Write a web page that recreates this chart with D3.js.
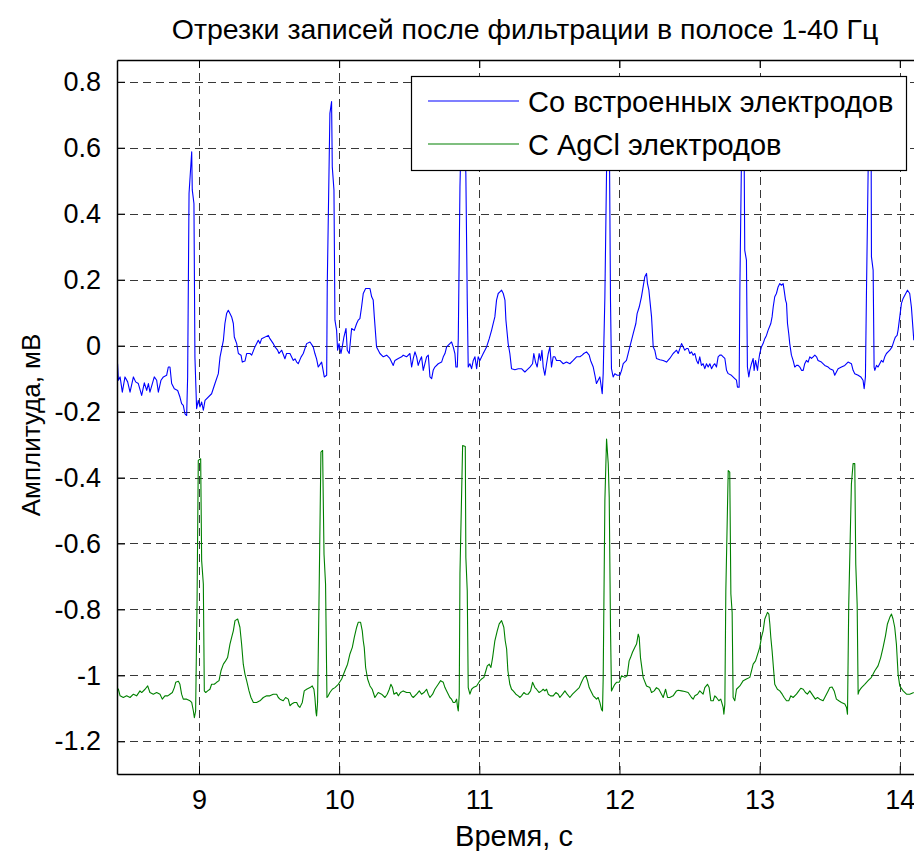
<!DOCTYPE html>
<html>
<head>
<meta charset="utf-8">
<script src="https://cdn.jsdelivr.net/npm/d3@7"></script>
<style>
  body { margin: 0; background: #fff; }
  text { font-family: "Liberation Sans", Arial, sans-serif; fill: #000; }
</style>
</head>
<body>
<div id="vis"></div>
<script>
// ---- data: [time s, amplitude mV] ----
var builtinSeries = [
 [8.415,-0.100],[8.419,-0.055],[8.425,-0.105],[8.437,-0.095],[8.453,-0.141],[8.472,-0.095],[8.491,-0.110],[8.508,-0.141],
 [8.532,-0.095],[8.548,-0.110],[8.567,-0.115],[8.591,-0.151],[8.610,-0.113],[8.627,-0.136],[8.639,-0.115],[8.650,-0.141],
 [8.681,-0.095],[8.698,-0.105],[8.710,-0.141],[8.729,-0.105],[8.746,-0.095],[8.769,-0.090],[8.781,-0.065],[8.793,-0.065],
 [8.805,-0.115],[8.824,-0.131],[8.848,-0.136],[8.864,-0.156],[8.876,-0.176],[8.888,-0.181],[8.900,-0.207],[8.912,-0.212],
 [8.919,-0.095],[8.929,0.461],[8.948,0.588],[8.952,0.472],[8.964,0.431],[8.971,-0.035],[8.983,-0.191],[8.995,-0.166],
 [9.007,-0.186],[9.019,-0.171],[9.031,-0.196],[9.043,-0.166],[9.090,-0.146],[9.114,-0.115],[9.138,-0.085],[9.150,-0.035],
 [9.174,0.016],[9.185,0.067],[9.197,0.097],[9.209,0.107],[9.221,0.097],[9.233,0.087],[9.245,0.067],[9.252,0.026],
 [9.269,0.006],[9.281,-0.024],[9.300,-0.029],[9.309,-0.050],[9.328,-0.047],[9.340,-0.024],[9.364,-0.024],[9.376,-0.029],
 [9.399,-0.004],[9.423,0.016],[9.435,0.006],[9.447,0.021],[9.495,0.031],[9.506,0.021],[9.530,0.006],[9.542,-0.004],
 [9.561,-0.014],[9.571,-0.024],[9.590,-0.014],[9.613,-0.040],[9.625,-0.024],[9.649,-0.024],[9.673,-0.045],[9.685,-0.040],
 [9.697,-0.050],[9.708,-0.055],[9.728,-0.035],[9.744,-0.024],[9.768,0.006],[9.792,0.011],[9.815,-0.004],[9.827,-0.024],
 [9.839,-0.040],[9.851,-0.065],[9.875,-0.050],[9.894,-0.095],[9.911,-0.090],[9.915,0.178],[9.934,0.704],[9.946,0.740],
 [9.951,0.542],[9.963,0.472],[9.970,0.077],[9.982,0.046],[9.989,-0.014],[9.999,0.006],[10.013,-0.024],[10.022,-0.004],
 [10.034,0.026],[10.049,0.052],[10.058,-0.014],[10.072,-0.024],[10.089,0.052],[10.108,0.046],[10.125,0.067],[10.136,0.077],
 [10.148,0.082],[10.160,0.117],[10.172,0.158],[10.189,0.173],[10.220,0.173],[10.232,0.148],[10.243,0.138],[10.251,0.087],
 [10.267,-0.004],[10.291,-0.024],[10.315,-0.034],[10.339,-0.029],[10.362,-0.039],[10.386,-0.060],[10.398,-0.045],[10.422,-0.039],
 [10.446,-0.034],[10.457,-0.029],[10.481,-0.034],[10.505,-0.024],[10.517,-0.065],[10.529,-0.039],[10.541,-0.019],[10.553,-0.034],
 [10.564,-0.060],[10.576,-0.045],[10.588,-0.034],[10.600,-0.075],[10.612,-0.055],[10.624,-0.034],[10.636,-0.029],[10.648,-0.095],
 [10.660,-0.100],[10.671,-0.075],[10.683,-0.065],[10.707,-0.055],[10.731,-0.050],[10.743,-0.034],[10.755,-0.024],[10.767,-0.004],
 [10.790,0.006],[10.802,0.011],[10.814,-0.004],[10.826,-0.024],[10.833,-0.065],[10.843,-0.065],[10.850,0.021],[10.862,0.482],
 [10.875,0.720],[10.890,0.700],[10.904,0.522],[10.914,0.138],[10.921,-0.065],[10.933,-0.055],[10.945,-0.070],[10.957,-0.045],
 [10.969,-0.034],[10.981,-0.070],[10.992,-0.034],[11.004,-0.045],[11.028,-0.024],[11.052,-0.004],[11.071,0.021],[11.088,0.047],
 [11.099,0.067],[11.111,0.087],[11.123,0.138],[11.135,0.158],[11.147,0.163],[11.159,0.168],[11.171,0.158],[11.183,0.138],
 [11.190,0.077],[11.206,0.006],[11.218,-0.024],[11.230,-0.070],[11.254,-0.073],[11.278,-0.070],[11.301,-0.070],[11.325,-0.080],
 [11.337,-0.075],[11.361,-0.065],[11.380,-0.055],[11.389,-0.024],[11.401,-0.050],[11.413,-0.065],[11.427,-0.024],[11.437,-0.045],
 [11.447,-0.014],[11.456,-0.065],[11.468,-0.090],[11.480,-0.055],[11.492,-0.024],[11.504,-0.004],[11.515,-0.065],[11.527,-0.034],
 [11.539,-0.034],[11.551,-0.045],[11.575,-0.045],[11.599,-0.055],[11.622,-0.050],[11.646,-0.055],[11.670,-0.045],[11.694,-0.034],
 [11.718,-0.034],[11.734,-0.029],[11.746,-0.024],[11.765,-0.019],[11.784,-0.029],[11.794,-0.045],[11.813,-0.065],[11.825,-0.090],
 [11.836,-0.115],[11.848,-0.105],[11.860,-0.095],[11.867,-0.115],[11.877,-0.146],[11.884,-0.085],[11.896,0.148],[11.908,0.532],
 [11.918,0.720],[11.927,0.700],[11.936,0.138],[11.943,-0.070],[11.955,-0.095],[11.967,-0.085],[11.984,-0.090],[12.003,-0.090],
 [12.015,-0.075],[12.027,-0.055],[12.050,-0.045],[12.062,-0.024],[12.074,-0.004],[12.098,0.036],[12.117,0.067],[12.126,0.097],
 [12.141,0.117],[12.157,0.148],[12.181,0.209],[12.193,0.219],[12.200,0.188],[12.210,0.168],[12.217,0.138],[12.229,0.087],
 [12.241,-0.004],[12.252,-0.014],[12.264,-0.039],[12.288,-0.043],[12.312,-0.045],[12.336,-0.050],[12.359,-0.039],[12.383,-0.024],
 [12.395,-0.019],[12.407,-0.014],[12.419,-0.024],[12.431,-0.009],[12.443,0.006],[12.455,-0.004],[12.466,-0.014],[12.478,-0.009],
 [12.490,-0.009],[12.502,-0.024],[12.514,-0.019],[12.526,-0.029],[12.538,-0.024],[12.550,-0.045],[12.562,-0.055],[12.573,-0.034],
 [12.585,-0.060],[12.597,-0.055],[12.609,-0.070],[12.621,-0.055],[12.633,-0.065],[12.645,-0.055],[12.657,-0.070],[12.669,-0.060],
 [12.680,-0.055],[12.692,-0.065],[12.704,-0.034],[12.716,-0.029],[12.728,-0.029],[12.740,-0.034],[12.752,-0.039],[12.764,-0.075],
 [12.776,-0.085],[12.799,-0.090],[12.823,-0.100],[12.835,-0.105],[12.842,-0.126],[12.854,-0.126],[12.859,0.168],[12.875,0.720],
 [12.888,0.700],[12.894,0.289],[12.906,0.259],[12.913,-0.065],[12.923,-0.095],[12.930,-0.075],[12.942,-0.055],[12.954,-0.039],
 [12.961,-0.075],[12.971,-0.045],[12.985,-0.075],[12.990,-0.055],[13.001,-0.024],[13.013,-0.004],[13.025,0.006],[13.037,0.021],
 [13.049,0.031],[13.061,0.047],[13.080,0.067],[13.089,0.087],[13.097,0.117],[13.108,0.148],[13.120,0.158],[13.132,0.178],
 [13.144,0.188],[13.156,0.183],[13.168,0.188],[13.175,0.168],[13.185,0.138],[13.192,0.128],[13.199,0.067],[13.208,0.036],
 [13.215,0.006],[13.227,-0.029],[13.239,-0.045],[13.251,-0.065],[13.263,-0.060],[13.275,-0.060],[13.287,-0.065],[13.299,-0.075],
 [13.311,-0.075],[13.322,-0.055],[13.334,-0.045],[13.346,-0.050],[13.358,-0.034],[13.370,-0.039],[13.382,-0.034],[13.394,-0.029],
 [13.406,-0.034],[13.417,-0.045],[13.441,-0.050],[13.465,-0.060],[13.489,-0.065],[13.501,-0.070],[13.525,-0.075],[13.536,-0.090],
 [13.548,-0.080],[13.560,-0.070],[13.584,-0.065],[13.608,-0.060],[13.631,-0.050],[13.655,-0.055],[13.667,-0.075],[13.679,-0.085],
 [13.703,-0.090],[13.722,-0.095],[13.738,-0.105],[13.746,-0.131],[13.755,-0.095],[13.762,0.148],[13.774,0.520],[13.782,0.720],
 [13.795,0.700],[13.798,0.269],[13.810,0.229],[13.817,-0.065],[13.822,-0.075],[13.834,-0.060],[13.845,-0.065],[13.857,-0.055],
 [13.869,-0.045],[13.881,-0.050],[13.893,-0.034],[13.905,-0.024],[13.929,-0.014],[13.945,-0.004],[13.960,0.016],[13.969,0.026],
 [13.981,0.031],[13.988,0.047],[14.000,0.087],[14.012,0.128],[14.024,0.143],[14.036,0.153],[14.055,0.168],[14.071,0.158],
 [14.083,0.117],[14.095,0.047],[14.100,0.016]
];

var agclSeries = [
 [8.415,-1.037],[8.425,-1.042],[8.437,-1.062],[8.460,-1.067],[8.484,-1.062],[8.508,-1.067],[8.532,-1.057],[8.555,-1.062],
 [8.579,-1.047],[8.591,-1.052],[8.615,-1.042],[8.634,-1.032],[8.650,-1.052],[8.674,-1.057],[8.698,-1.052],[8.722,-1.057],
 [8.738,-1.072],[8.757,-1.062],[8.777,-1.062],[8.793,-1.057],[8.810,-1.052],[8.824,-1.037],[8.834,-1.021],[8.853,-1.018],
 [8.864,-1.027],[8.876,-1.057],[8.888,-1.072],[8.912,-1.072],[8.936,-1.077],[8.948,-1.082],[8.960,-1.108],[8.967,-1.128],
 [8.976,-1.108],[8.986,-0.784],[8.995,-0.348],[9.012,-0.343],[9.019,-0.652],[9.031,-0.723],[9.038,-1.047],[9.048,-1.052],
 [9.062,-1.047],[9.078,-1.042],[9.090,-1.027],[9.109,-1.027],[9.126,-1.021],[9.143,-1.016],[9.157,-0.986],[9.174,-0.966],
 [9.190,-0.956],[9.204,-0.946],[9.221,-0.905],[9.233,-0.885],[9.245,-0.865],[9.257,-0.834],[9.276,-0.829],[9.292,-0.854],
 [9.304,-0.905],[9.316,-0.966],[9.328,-0.996],[9.340,-1.016],[9.357,-1.047],[9.371,-1.067],[9.388,-1.082],[9.411,-1.082],
 [9.435,-1.077],[9.459,-1.067],[9.483,-1.062],[9.506,-1.062],[9.530,-1.057],[9.554,-1.057],[9.566,-1.067],[9.578,-1.072],
 [9.601,-1.077],[9.618,-1.067],[9.637,-1.072],[9.649,-1.092],[9.661,-1.087],[9.680,-1.082],[9.697,-1.082],[9.708,-1.092],
 [9.720,-1.097],[9.737,-1.082],[9.751,-1.047],[9.768,-1.042],[9.792,-1.037],[9.808,-1.032],[9.820,-1.042],[9.827,-1.067],
 [9.835,-1.113],[9.839,-1.123],[9.846,-1.082],[9.856,-0.784],[9.870,-0.323],[9.882,-0.318],[9.892,-0.632],[9.903,-0.723],
 [9.913,-1.067],[9.922,-1.062],[9.934,-1.052],[9.951,-1.042],[9.970,-1.037],[9.994,-1.027],[10.018,-1.011],[10.041,-0.986],
 [10.060,-0.966],[10.077,-0.935],[10.094,-0.915],[10.108,-0.885],[10.125,-0.854],[10.136,-0.839],[10.153,-0.839],[10.165,-0.865],
 [10.172,-0.895],[10.179,-0.915],[10.189,-0.976],[10.203,-1.011],[10.220,-1.032],[10.236,-1.042],[10.255,-1.067],[10.279,-1.052],
 [10.303,-1.057],[10.327,-1.067],[10.343,-1.057],[10.358,-1.042],[10.369,-1.027],[10.381,-1.037],[10.391,-1.057],[10.410,-1.052],
 [10.422,-1.062],[10.438,-1.052],[10.457,-1.047],[10.481,-1.052],[10.505,-1.052],[10.517,-1.062],[10.529,-1.067],[10.553,-1.057],
 [10.572,-1.047],[10.588,-1.057],[10.605,-1.052],[10.624,-1.042],[10.636,-1.057],[10.648,-1.067],[10.667,-1.057],[10.683,-1.042],
 [10.707,-1.027],[10.724,-1.016],[10.743,-1.021],[10.755,-1.037],[10.767,-1.047],[10.790,-1.067],[10.802,-1.072],[10.814,-1.082],
 [10.826,-1.082],[10.838,-1.072],[10.845,-1.097],[10.850,-1.108],[10.857,-1.057],[10.862,-0.692],[10.881,-0.303],[10.900,-0.306],
 [10.904,-0.642],[10.914,-0.743],[10.921,-1.037],[10.933,-1.057],[10.945,-1.042],[10.957,-1.037],[10.981,-1.032],[11.004,-1.016],
 [11.016,-1.011],[11.033,-1.006],[11.047,-0.986],[11.057,-0.971],[11.071,-0.966],[11.083,-0.976],[11.095,-0.946],[11.111,-0.895],
 [11.128,-0.865],[11.142,-0.844],[11.159,-0.834],[11.175,-0.854],[11.185,-0.895],[11.195,-0.920],[11.204,-0.986],[11.218,-1.027],
 [11.230,-1.042],[11.242,-1.047],[11.261,-1.057],[11.278,-1.062],[11.290,-1.067],[11.301,-1.062],[11.318,-1.052],[11.332,-1.057],
 [11.349,-1.057],[11.366,-1.047],[11.380,-1.021],[11.397,-1.037],[11.408,-1.042],[11.427,-1.052],[11.444,-1.047],[11.456,-1.042],
 [11.468,-1.047],[11.480,-1.042],[11.492,-1.057],[11.508,-1.062],[11.527,-1.062],[11.546,-1.052],[11.563,-1.057],[11.575,-1.067],
 [11.594,-1.057],[11.611,-1.047],[11.627,-1.057],[11.646,-1.067],[11.665,-1.057],[11.689,-1.047],[11.713,-1.037],[11.729,-1.021],
 [11.746,-1.006],[11.760,-1.001],[11.772,-1.016],[11.784,-1.037],[11.796,-1.047],[11.813,-1.062],[11.825,-1.067],[11.836,-1.072],
 [11.848,-1.067],[11.860,-1.082],[11.872,-1.103],[11.879,-1.108],[11.884,-1.006],[11.896,-0.470],[11.908,-0.283],[11.920,-0.358],
 [11.927,-0.460],[11.936,-0.854],[11.943,-1.047],[11.955,-1.037],[11.967,-1.027],[11.979,-1.021],[11.998,-1.021],[12.015,-1.001],
 [12.039,-1.006],[12.055,-1.001],[12.069,-0.956],[12.079,-0.946],[12.093,-0.930],[12.110,-0.915],[12.122,-0.905],[12.134,-0.875],
 [12.141,-0.885],[12.150,-0.946],[12.169,-1.006],[12.193,-1.032],[12.217,-1.037],[12.229,-1.052],[12.248,-1.047],[12.264,-1.037],
 [12.281,-1.042],[12.300,-1.057],[12.312,-1.067],[12.329,-1.042],[12.343,-1.067],[12.359,-1.067],[12.383,-1.062],[12.407,-1.047],
 [12.419,-1.045],[12.443,-1.047],[12.466,-1.049],[12.490,-1.052],[12.514,-1.067],[12.526,-1.072],[12.538,-1.062],[12.557,-1.057],
 [12.573,-1.047],[12.597,-1.057],[12.609,-1.037],[12.628,-1.027],[12.640,-1.037],[12.652,-1.077],[12.669,-1.077],[12.680,-1.062],
 [12.692,-1.067],[12.709,-1.077],[12.723,-1.072],[12.740,-1.097],[12.745,-1.118],[12.752,-1.087],[12.759,-0.743],[12.776,-0.379],
 [12.787,-0.384],[12.795,-0.753],[12.804,-0.809],[12.811,-1.067],[12.823,-1.077],[12.835,-1.042],[12.859,-1.032],[12.883,-1.016],
 [12.906,-1.011],[12.930,-1.006],[12.942,-0.986],[12.954,-0.966],[12.971,-0.956],[12.990,-0.930],[13.001,-0.915],[13.013,-0.885],
 [13.025,-0.865],[13.037,-0.829],[13.056,-0.809],[13.066,-0.814],[13.073,-0.844],[13.080,-0.885],[13.089,-0.925],[13.108,-1.027],
 [13.127,-1.042],[13.144,-1.047],[13.161,-1.057],[13.175,-1.067],[13.192,-1.077],[13.208,-1.077],[13.223,-1.062],[13.239,-1.067],
 [13.263,-1.057],[13.280,-1.047],[13.294,-1.039],[13.311,-1.042],[13.327,-1.052],[13.341,-1.057],[13.358,-1.047],[13.382,-1.062],
 [13.398,-1.072],[13.413,-1.067],[13.429,-1.072],[13.453,-1.077],[13.477,-1.057],[13.489,-1.047],[13.501,-1.037],[13.517,-1.035],
 [13.532,-1.047],[13.548,-1.072],[13.565,-1.077],[13.584,-1.082],[13.608,-1.087],[13.620,-1.097],[13.627,-1.118],[13.636,-0.784],
 [13.655,-0.419],[13.667,-0.358],[13.679,-0.358],[13.686,-0.662],[13.696,-0.784],[13.703,-1.057],[13.710,-1.047],[13.727,-1.037],
 [13.750,-1.027],[13.774,-1.016],[13.798,-1.006],[13.822,-0.986],[13.845,-0.971],[13.864,-0.946],[13.881,-0.915],[13.898,-0.880],
 [13.912,-0.844],[13.929,-0.824],[13.941,-0.814],[13.952,-0.829],[13.964,-0.854],[13.976,-0.905],[13.988,-0.996],[14.000,-1.032],
 [14.024,-1.047],[14.048,-1.057],[14.071,-1.057],[14.100,-1.052]
];

var xTicks = [9, 10, 11, 12, 13, 14];
var yTicks = [-1.2, -1, -0.8, -0.6, -0.4, -0.2, 0, 0.2, 0.4, 0.6, 0.8];
var xDomain = [8.415, 14.23];
var yDomain = [-1.299, 0.866];
var seriesNames = ["Со встроенных электродов", "С AgCl электродов"];
var seriesColors = ["#0000ff", "#008000"];
var titleText = "Отрезки записей после фильтрации в полосе 1-40 Гц";
var xLabel = "Время, с";
var yLabel = "Амплитуда, мВ";

var width = 914, height = 851;
var plotL = 117, plotR = 932, plotT = 60, plotB = 774;
var fsTick = 27, fsText = 29;

var svg = d3.select("#vis").append("svg")
  .attr("width", width).attr("height", height)
  .style("display", "block");
svg.append("rect").attr("width", width).attr("height", height).attr("fill", "#fff");

var x = d3.scaleLinear().domain(xDomain).range([plotL, plotR]);
var y = d3.scaleLinear().domain(yDomain).range([plotB, plotT]);

svg.append("clipPath").attr("id", "clipplot")
  .append("rect").attr("x", plotL).attr("y", plotT)
  .attr("width", plotR - plotL).attr("height", plotB - plotT);

// grid
var gridg = svg.append("g").attr("id", "gridg")
  .attr("stroke", "#383838").attr("stroke-width", 1).attr("stroke-dasharray", "8,5");
gridg.selectAll(".gx").data(xTicks).enter().append("line")
  .attr("x1", function(d){ return Math.round(x(d)) + 0.5; })
  .attr("x2", function(d){ return Math.round(x(d)) + 0.5; })
  .attr("y1", plotT).attr("y2", plotB);
gridg.selectAll(".gy").data(yTicks).enter().append("line")
  .attr("y1", function(d){ return Math.round(y(d)) + 0.5; })
  .attr("y2", function(d){ return Math.round(y(d)) + 0.5; })
  .attr("x1", plotL).attr("x2", plotR);

// traces
var line = d3.line().x(function(d){ return x(d[0]); }).y(function(d){ return y(d[1]); });
var traces = svg.append("g").attr("clip-path", "url(#clipplot)");
[builtinSeries, agclSeries].forEach(function(s, i){
  traces.append("path").datum(s)
    .attr("d", line)
    .attr("fill", "none")
    .attr("stroke", seriesColors[i])
    .attr("stroke-width", 1.1)
    .attr("stroke-linejoin", "round");
});

// axes (MATLAB style, ticks pointing inward, box on)
var axg = svg.append("g").attr("id", "axg");
axg.append("g").attr("transform", "translate(0," + plotB + ")")
  .call(d3.axisBottom(x).tickValues(xTicks).tickSizeInner(-8).tickSizeOuter(0).tickPadding(16).tickFormat(d3.format("d")));
axg.append("g").attr("transform", "translate(0," + plotT + ")")
  .call(d3.axisTop(x).tickValues(xTicks).tickSizeInner(-8).tickSizeOuter(0).tickFormat(""));
axg.append("g").attr("transform", "translate(" + plotL + ",0)")
  .call(d3.axisLeft(y).tickValues(yTicks).tickSizeInner(-8).tickSizeOuter(0).tickPadding(16)
    .tickFormat(function(d){ return String(+d.toFixed(1)); }));
axg.selectAll(".domain").attr("stroke", "#000").attr("stroke-width", 1.5);
axg.selectAll(".tick line").attr("stroke", "#000");
axg.selectAll(".tick text").attr("font-size", fsTick).attr("font-family", "Liberation Sans, Arial, sans-serif").attr("fill", "#000");

// titles
svg.append("text").attr("x", 525).attr("y", 39).attr("text-anchor", "middle")
  .attr("font-size", 28.5).text(titleText);
svg.append("text").attr("x", 514).attr("y", 846).attr("text-anchor", "middle")
  .attr("font-size", fsText).text(xLabel);
svg.append("text").attr("transform", "translate(40,425) rotate(-90)").attr("text-anchor", "middle")
  .attr("font-size", 26).text(yLabel);

// legend
var lg = svg.append("g").attr("id", "legendg");
lg.append("rect").attr("x", 411.5).attr("y", 76.5).attr("width", 495).attr("height", 94)
  .attr("fill", "#fff").attr("stroke", "#000").attr("stroke-width", 1.2);
seriesNames.forEach(function(n, i){
  var ly = 101 + i * 43;
  lg.append("line").attr("x1", 428).attr("x2", 519).attr("y1", ly).attr("y2", ly)
    .attr("stroke", seriesColors[i]).attr("stroke-width", 1.1);
  lg.append("text").attr("x", 528).attr("y", ly + 11).attr("font-size", fsText).text(n);
});
</script>
</body>
</html>
